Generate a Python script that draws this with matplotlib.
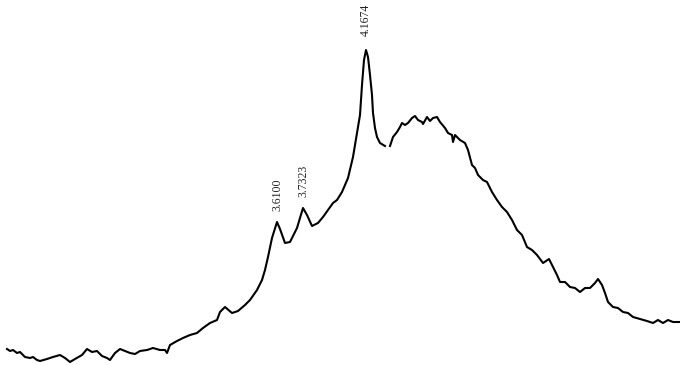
import numpy as np
import matplotlib
matplotlib.use("Agg")
import matplotlib.pyplot as plt

# Scan position (arbitrary channel units) and measured intensity
position = [7, 10, 13, 17, 20, 25, 30, 33, 37, 40, 47, 53, 60, 65, 70, 75, 82, 87, 92, 97,
            102, 107, 110, 115, 120, 125, 130, 135, 140, 147, 153, 160, 165, 167, 170, 177,
            183, 190, 197, 203, 210, 217, 220, 225, 232, 238, 245, 250, 257, 262, 265, 268,
            272, 277, 280, 285, 290, 297, 303, 307, 312, 318, 323, 328, 333, 337, 342, 348,
            353, 357, 360, 362, 364, 366, 368, 370, 372, 373, 375, 377, 380, 385, 387,
            390, 393, 397, 400, 402, 405, 408, 412, 415, 418, 422, 423, 427, 430, 433, 437,
            440, 445, 448, 452, 453, 455, 460, 465, 468, 472, 475, 478, 483, 487, 492, 497,
            502, 507, 512, 517, 522, 527, 532, 537, 543, 549, 553, 557, 560, 565, 570, 575,
            580, 585, 590, 595, 598, 602, 605, 608, 613, 618, 623, 628, 633, 640, 647, 653,
            658, 663, 668, 673, 680]
intensity = [16, 14, 15, 12, 13, 8, 7, 8, 5, 4, 6, 8, 10, 7, 3, 6, 10, 16, 13, 14,
             9, 7, 5, 12, 16, 14, 12, 11, 14, 15, 17, 15, 15, 12, 20, 24,
             27, 30, 32, 37, 42, 45, 53, 58, 52, 54, 60, 65, 75, 85, 95, 108,
             127, 143, 136, 122, 123, 137, 157, 150, 139, 142, 148, 155, 162, 165, 173, 187,
             208, 232, 250, 280, 305, 315, 308, 290, 270, 252, 237, 228, 222, 219, np.nan,
             219, 228, 233, 238, 242, 240, 242, 247, 249, 245, 243, 241, 248, 244, 247, 248,
             243, 237, 232, 230, 223, 230, 225, 222, 215, 200, 197, 190, 185, 183, 173, 165,
             158, 153, 145, 135, 130, 118, 115, 110, 102, 106, 98, 90, 83, 83, 78, 77,
             73, 77, 77, 82, 86, 80, 72, 63, 58, 57, 53, 52, 48, 46, 44, 42,
             45, 42, 45, 43, 43]

# Indexed reflections (d-spacing in Å) and where they sit on the scan
peak_labels = ["3.6100", "3.7323", "4.1674"]
peak_positions = [277, 303, 366]
peak_heights = [143, 157, 315]
label_offsets = [8, 8, 10]

fig = plt.figure(figsize=(6.8, 3.65), dpi=100)
ax = fig.add_axes([0, 0, 1, 1])
ax.plot(position, intensity, color="black", lw=1.5, solid_joinstyle="round")

for lab, px, ph, off in zip(peak_labels, peak_positions, peak_heights, label_offsets):
    ax.annotate(lab, xy=(px, ph), xytext=(0, off), textcoords="offset points",
                rotation=90, ha="center", va="bottom", fontsize=8.5,
                family="Liberation Serif", color="#222222")

ax.set_xlim(0, 680)
ax.set_ylim(0, 365)
ax.axis("off")
fig.savefig("out.png", dpi=100, facecolor="white")
